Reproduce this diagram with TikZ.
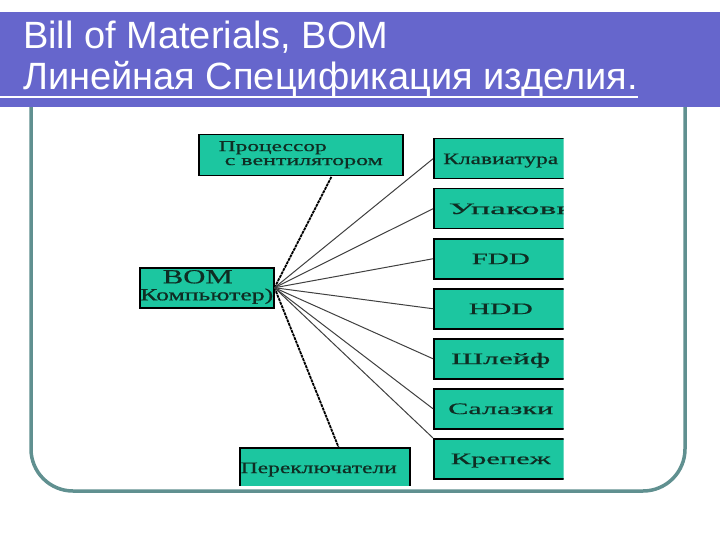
\documentclass[tikz,border=0pt]{standalone}
\usepackage{fontspec}
\usepackage{graphicx}
\setmainfont{Liberation Serif}
\newfontfamily\boxfont[FakeBold=0.6]{Liberation Serif}
\newfontfamily\titlefont{Liberation Sans}
\usetikzlibrary{calc}
\definecolor{bannerblue}{RGB}{102,102,204}
\definecolor{boxgreen}{RGB}{28,198,160}
\definecolor{framegray}{RGB}{96,144,144}
\definecolor{boxtext}{RGB}{15,45,35}
\newcommand{\fitw}[2]{\resizebox{#1}{\height}{#2}}
\begin{document}
\begin{tikzpicture}[x=1pt,y=-1pt,
  basebox/.style={draw=black, line width=1.5pt, fill=boxgreen, anchor=north west,
    inner sep=0pt, text=boxtext, minimum width=134pt, minimum height=40pt},
  partbox/.style={basebox, font=\boxfont\fontsize{16}{16}\selectfont,
    text height=10.6pt, text depth=0pt},
  link/.style={draw=black!75, line width=1pt},
  heavylink/.style={draw=black, line width=1.8pt, dash pattern=on 3pt off 0.8pt},
  titletext/.style={anchor=base west, text=white, inner sep=0pt,
    font=\titlefont\fontsize{38}{38}\selectfont}
]
\useasboundingbox (0,0) rectangle (720,540);
\fill[white] (0,0) rectangle (720,540);
% frame
\draw[framegray, line width=3.5pt, rounded corners=42pt] (31,40) -- (31,491) -- (685,491) -- (685,40);
% banner
\fill[bannerblue] (0,12) rectangle (720,107);
\node[titletext] (t1) at (23,49) {Bill of Materials, BOM};
\node[titletext] (t2) at (23,90) {Линейная Спецификация изделия.};
\coordinate (ulstart) at (0,97);
\draw[white, line width=2pt] (ulstart) -- (ulstart -| t2.east);
% left boxes
\node[basebox, minimum width=204pt, minimum height=41pt,
  font=\boxfont\fontsize{15}{14}\selectfont] (proc) at (198,134)
  {\raisebox{-2.6pt}{\begin{tabular}{@{}l@{}}\fitw{108pt}{Процессор}\\
   \hspace*{6pt}\fitw{158pt}{с вентилятором}\end{tabular}}};
\node[basebox, minimum width=134pt, minimum height=40pt,
  font=\boxfont\fontsize{17}{17}\selectfont] (bom) at (139,267)
  {\raisebox{-5.5pt}{\begin{tabular}{@{}c@{}}{\fontsize{20}{17}\selectfont\fitw{70pt}{BOM}}\hspace*{18pt}\\
   \fitw{133pt}{Компьютер)}\end{tabular}}};
\begin{scope}
\clip (0,0) rectangle (720,485);
\node[partbox, minimum width=170pt, minimum height=40pt] (sw) at (239,447)
  {\fitw{156pt}{Переключатели}\hspace*{12pt}};
\end{scope}
% right column
\begin{scope}
\clip (0,0) rectangle (563.5,540);
\node[partbox] (kb) at (433,138) {\fitw{115pt}{Клавиатура}};
\node[partbox] (pk) at (433,188) {\hspace*{15pt}\fitw{125pt}{Упаковк}};
\node[partbox] (fdd) at (433,238) {\fitw{58pt}{FDD}};
\node[partbox] (hdd) at (433,288) {\fitw{64pt}{HDD}};
\node[partbox] (cab) at (433,338) {\fitw{99pt}{Шлейф}};
\node[partbox] (rail) at (433,388) {\fitw{105pt}{Салазки}};
\node[partbox] (fix) at (433,438) {\fitw{100pt}{Крепеж}};
\end{scope}
% connectors
\draw[heavylink] (bom.east) -- ($(proc.south west)!0.65!(proc.south east)$);
\draw[heavylink] (bom.east) -- ($(sw.north west)!0.58!(sw.north east)$);
\foreach \n in {kb,pk,fdd,hdd,cab,rail} \draw[link] (bom.east) -- (\n.west);
\draw[link] (bom.east) -- (fix.north west);
\end{tikzpicture}
\end{document}
